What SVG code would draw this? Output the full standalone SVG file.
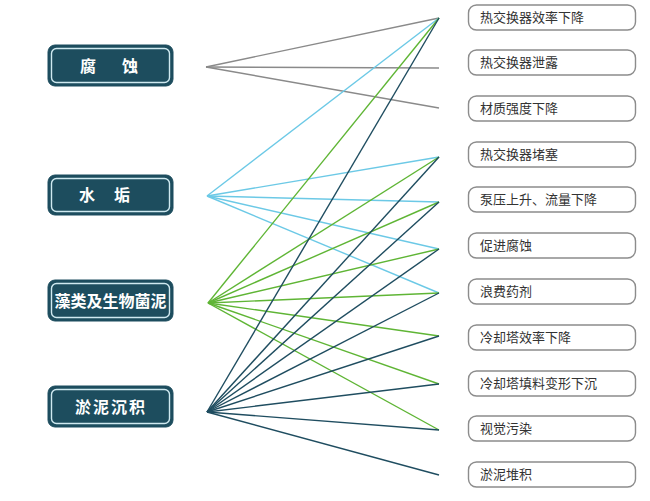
<svg xmlns="http://www.w3.org/2000/svg" width="650" height="501" viewBox="0 0 650 501">
<style>
.lb{fill:#1d4d5e;stroke:#1d4d5e;stroke-width:1}
.lbi{fill:none;stroke:#cfe9f0;stroke-width:1.4}
.lt{font-family:"Noto Sans CJK SC","Liberation Sans",sans-serif;font-size:16px;font-weight:bold;fill:#ffffff}
.rb{fill:#ffffff;stroke:#8c8c8c;stroke-width:1.4}
.rt{font-family:"Noto Sans CJK SC","Liberation Sans",sans-serif;font-size:13px;fill:#333333}
.c line{stroke-width:1.4;fill:none}
.g line{stroke:#8a8a8a}
.b line{stroke:#6cc9e6}
.gr line{stroke:#5fb535}
.d line{stroke:#1f4d60}
</style>
<rect width="650" height="501" fill="#ffffff"/>
<g id="connectors" class="c">
<g class="g">
<line x1="206" y1="67" x2="439" y2="18"/>
<line x1="206" y1="67" x2="439" y2="68"/>
<line x1="206" y1="67" x2="439" y2="108"/>
</g>
<g class="b">
<line x1="207" y1="196" x2="439" y2="18"/>
<line x1="207" y1="196" x2="439" y2="157"/>
<line x1="207" y1="196" x2="439" y2="202"/>
<line x1="207" y1="196" x2="439" y2="249"/>
<line x1="207" y1="196" x2="439" y2="293"/>
</g>
<g class="gr">
<line x1="208" y1="303" x2="439" y2="18"/>
<line x1="208" y1="303" x2="439" y2="157"/>
<line x1="208" y1="303" x2="439" y2="202"/>
<line x1="208" y1="303" x2="439" y2="249"/>
<line x1="208" y1="303" x2="439" y2="293"/>
<line x1="208" y1="303" x2="439" y2="336"/>
<line x1="208" y1="303" x2="439" y2="384"/>
<line x1="208" y1="303" x2="439" y2="430"/>
</g>
<g class="d">
<line x1="207" y1="412" x2="439" y2="18"/>
<line x1="207" y1="412" x2="439" y2="157"/>
<line x1="207" y1="412" x2="439" y2="202"/>
<line x1="207" y1="412" x2="439" y2="249"/>
<line x1="207" y1="412" x2="439" y2="293"/>
<line x1="207" y1="412" x2="439" y2="336"/>
<line x1="207" y1="412" x2="439" y2="384"/>
<line x1="207" y1="412" x2="439" y2="430"/>
<line x1="207" y1="412" x2="439" y2="475"/>
</g>
</g>
<g id="n-fushi">
<rect class="lb" x="48" y="45" width="125" height="41" rx="7"/>
<rect class="lbi" x="51.5" y="48.5" width="118" height="34" rx="5"/>
<text class="lt" y="71.5"><tspan x="80">腐</tspan><tspan x="122">蚀</tspan></text>
</g>
<g id="n-shuigou">
<rect class="lb" x="48" y="175" width="125" height="40" rx="7"/>
<rect class="lbi" x="51.5" y="178.5" width="118" height="33" rx="5"/>
<text class="lt" y="201"><tspan x="79">水</tspan><tspan x="114">垢</tspan></text>
</g>
<g id="n-zaolei">
<rect class="lb" x="48" y="280" width="125" height="41" rx="7"/>
<rect class="lbi" x="51.5" y="283.5" width="118" height="34" rx="5"/>
<text class="lt" x="110.5" y="306.5" text-anchor="middle">藻类及生物菌泥</text>
</g>
<g id="n-yuni">
<rect class="lb" x="48" y="386" width="125" height="41" rx="7"/>
<rect class="lbi" x="51.5" y="389.5" width="118" height="34" rx="5"/>
<text class="lt" x="75" y="412.5" letter-spacing="2">淤泥沉积</text>
</g>
<g id="r1"><rect class="rb" x="468.5" y="5" width="167" height="25" rx="8"/><text class="rt" x="480" y="22">热交换器效率下降</text></g>
<g id="r2"><rect class="rb" x="468.5" y="50" width="167" height="25" rx="8"/><text class="rt" x="480" y="67">热交换器泄露</text></g>
<g id="r3"><rect class="rb" x="468.5" y="96" width="167" height="25" rx="8"/><text class="rt" x="480" y="113">材质强度下降</text></g>
<g id="r4"><rect class="rb" x="468.5" y="142" width="167" height="25" rx="8"/><text class="rt" x="480" y="159">热交换器堵塞</text></g>
<g id="r5"><rect class="rb" x="468.5" y="187" width="167" height="25" rx="8"/><text class="rt" x="480" y="204">泵压上升、流量下降</text></g>
<g id="r6"><rect class="rb" x="468.5" y="233" width="167" height="25" rx="8"/><text class="rt" x="480" y="250">促进腐蚀</text></g>
<g id="r7"><rect class="rb" x="468.5" y="279" width="167" height="25" rx="8"/><text class="rt" x="480" y="296">浪费药剂</text></g>
<g id="r8"><rect class="rb" x="468.5" y="325" width="167" height="25" rx="8"/><text class="rt" x="480" y="342">冷却塔效率下降</text></g>
<g id="r9"><rect class="rb" x="468.5" y="371" width="167" height="25" rx="8"/><text class="rt" x="480" y="388">冷却塔填料变形下沉</text></g>
<g id="r10"><rect class="rb" x="468.5" y="416" width="167" height="25" rx="8"/><text class="rt" x="480" y="433">视觉污染</text></g>
<g id="r11"><rect class="rb" x="468.5" y="462" width="167" height="25" rx="8"/><text class="rt" x="480" y="479">淤泥堆积</text></g>
</svg>
